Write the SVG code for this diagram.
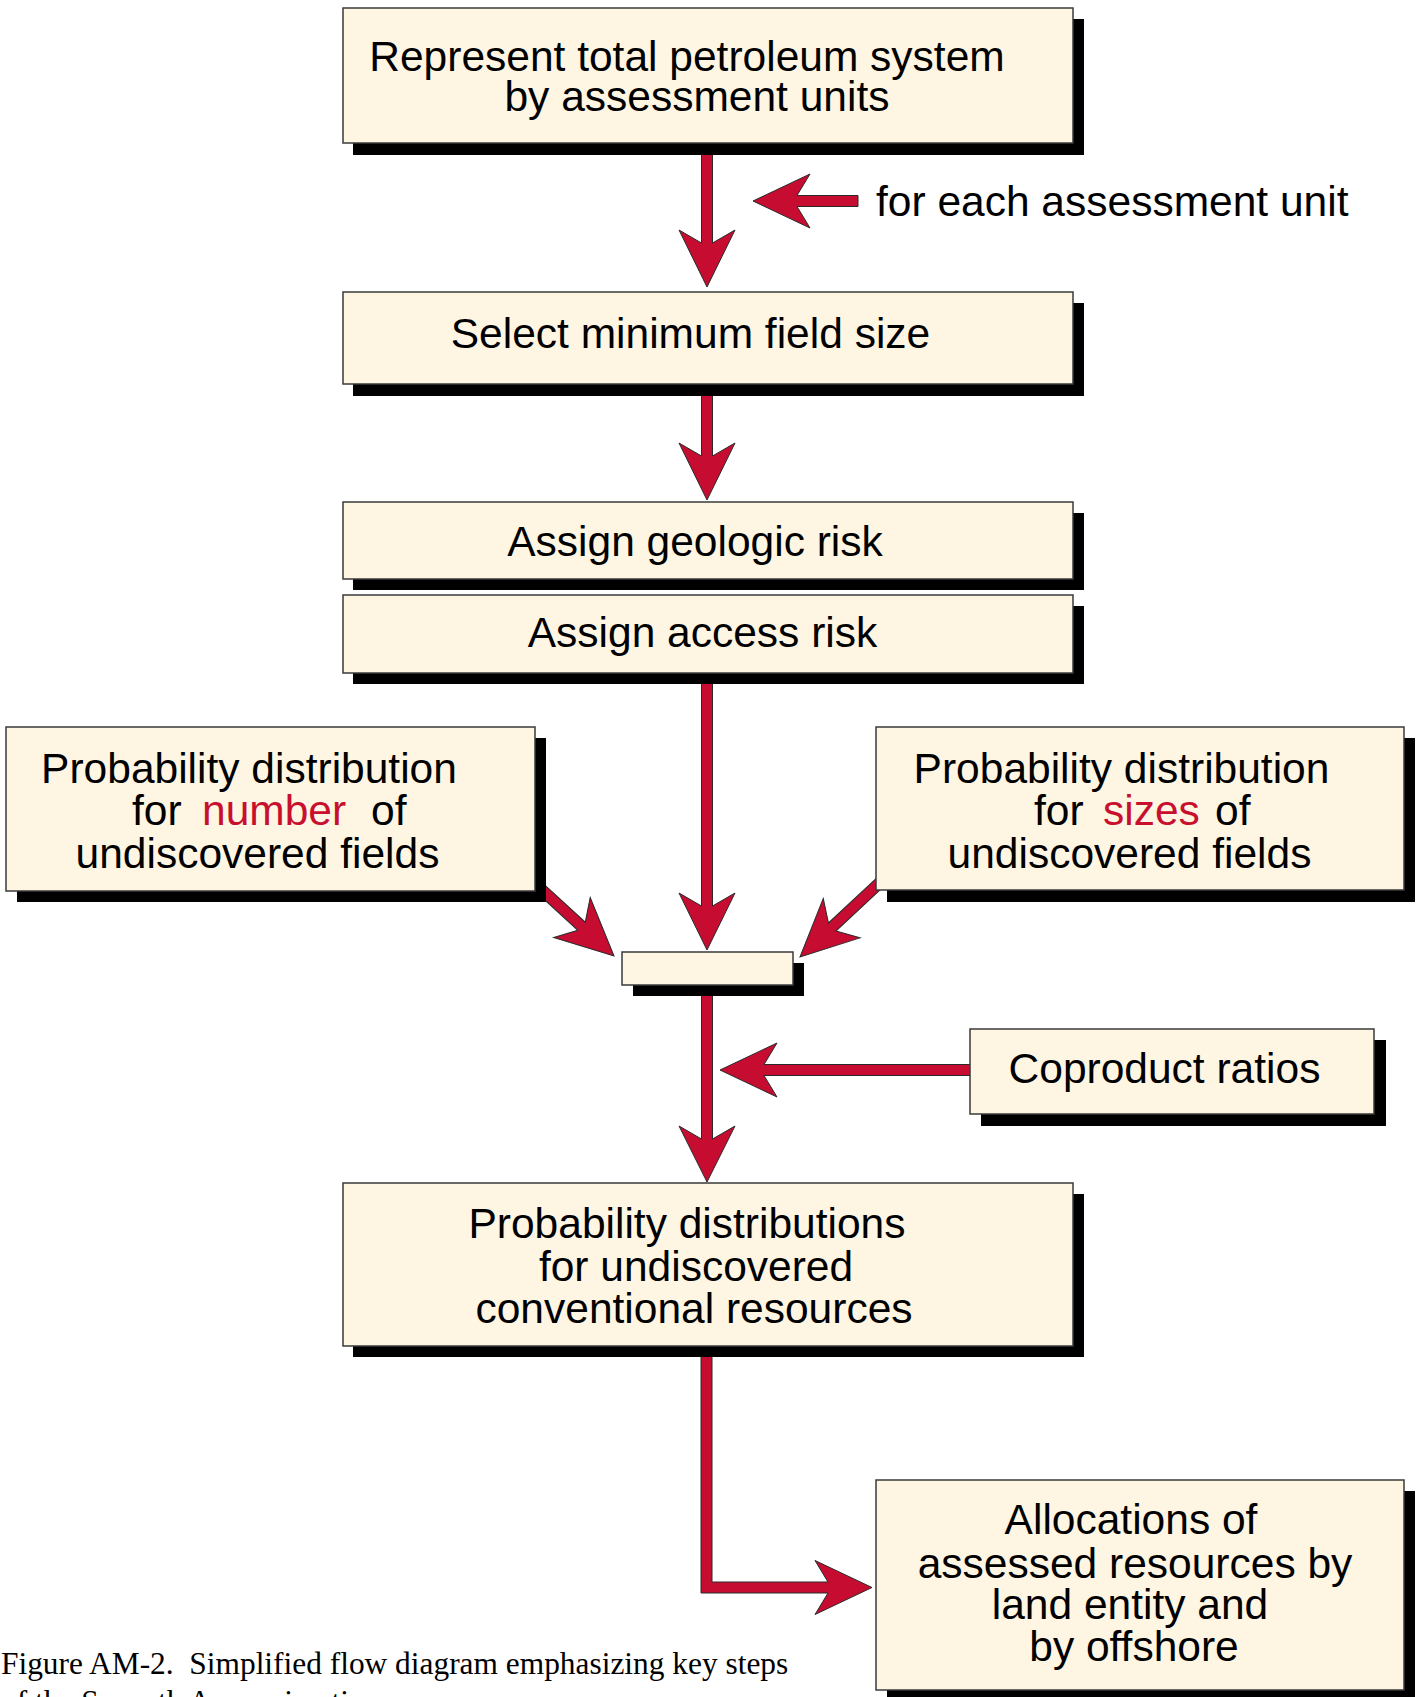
<svg xmlns="http://www.w3.org/2000/svg" width="1422" height="1697" viewBox="0 0 1422 1697">
<style>
.box{fill:#fef5e3;stroke:#3a3a3a;stroke-width:1.5}
.sh{fill:#000}
.arr{fill:#c60c30;stroke:#2a2a2a;stroke-width:1;stroke-linejoin:miter}
.t{font-family:"Liberation Sans",Arial,Helvetica,sans-serif;font-size:42.5px;fill:#000}
.m{text-anchor:middle}
.red{fill:#c8102e}
.cap{font-family:"Liberation Serif","Times New Roman",serif;font-size:31.4px;fill:#000}
</style>
<rect width="1422" height="1697" fill="#fff"/>

<g id="connectors">
  <polygon class="arr" points="701.5,150 701.5,243 679,230 707,287 735,230 712.5,243 712.5,150"/>
  <polygon class="arr" points="858,195.5 797,195.5 810,174 753,201 810,228 797,206.5 858,206.5"/>
  <polygon class="arr" points="701.5,390 701.5,456 679,443 707,500 735,443 712.5,456 712.5,390"/>
  <polygon class="arr" points="701.5,680 701.5,906 679,893 707,950 735,893 712.5,906 712.5,680"/>
  <polygon class="arr" transform="translate(614,956) rotate(42.5)" points="-120,-5.5 -44,-5.5 -57,-27 0,0 -57,27 -44,5.5 -120,5.5"/>
  <polygon class="arr" transform="translate(800,957) rotate(137)" points="-120,-5.5 -44,-5.5 -57,-27 0,0 -57,27 -44,5.5 -120,5.5"/>
  <polygon class="arr" points="701.5,990 701.5,1139 679,1126 707,1182 735,1126 712.5,1139 712.5,990"/>
  <polygon class="arr" points="975,1064.5 764,1064.5 777,1043 720,1070 777,1097 764,1075.5 975,1075.5"/>
  <polygon class="arr" points="701,1352 701,1593 828,1593 815,1614.5 872,1587.5 815,1560.5 828,1582 712,1582 712,1352"/>
</g>

<g id="n1">
  <rect class="sh" x="353" y="19" width="731" height="136"/>
  <rect class="box" x="343" y="8" width="730" height="135"/>
  <text class="t m" x="687" y="71">Represent total petroleum system</text>
  <text class="t m" x="697" y="111">by assessment units</text>
</g>

<g id="label-each">
  <text class="t" x="876" y="216">for each assessment unit</text>
</g>

<g id="n2">
  <rect class="sh" x="353" y="303" width="731" height="93"/>
  <rect class="box" x="343" y="292" width="730" height="92"/>
  <text class="t m" x="690.5" y="348">Select minimum field size</text>
</g>

<g id="n3">
  <rect class="sh" x="353" y="513" width="731" height="77"/>
  <rect class="box" x="343" y="502" width="730" height="77"/>
  <text class="t m" x="695" y="556">Assign geologic risk</text>
</g>

<g id="n4">
  <rect class="sh" x="353" y="606" width="731" height="78"/>
  <rect class="box" x="343" y="595" width="730" height="78"/>
  <text class="t m" x="702.5" y="647">Assign access risk</text>
</g>

<g id="n5">
  <rect class="sh" x="17" y="738" width="529" height="164"/>
  <rect class="box" x="6" y="727" width="529" height="164"/>
  <text class="t m" x="249" y="783">Probability distribution</text>
  <text class="t" y="825"><tspan x="132">for</tspan><tspan x="202" class="red">number</tspan><tspan x="371">of</tspan></text>
  <text class="t m" x="257.5" y="868">undiscovered fields</text>
</g>

<g id="n6">
  <rect class="sh" x="887" y="738" width="528" height="164"/>
  <rect class="box" x="876" y="727" width="528" height="163"/>
  <text class="t m" x="1121.5" y="783">Probability distribution</text>
  <text class="t" y="825"><tspan x="1034">for</tspan><tspan x="1103" class="red">sizes</tspan><tspan x="1215">of</tspan></text>
  <text class="t m" x="1129.5" y="868">undiscovered fields</text>
</g>

<g id="n7">
  <rect class="sh" x="633" y="963" width="171" height="33"/>
  <rect class="box" x="622" y="952" width="171" height="33"/>
</g>

<g id="n8">
  <rect class="sh" x="981" y="1040" width="405" height="86"/>
  <rect class="box" x="970" y="1029" width="404" height="85"/>
  <text class="t m" x="1164.5" y="1083">Coproduct ratios</text>
</g>

<g id="n9">
  <rect class="sh" x="353" y="1194" width="731" height="163"/>
  <rect class="box" x="343" y="1183" width="730" height="163"/>
  <text class="t m" x="687" y="1238">Probability distributions</text>
  <text class="t m" x="696" y="1281">for undiscovered</text>
  <text class="t m" x="694" y="1323">conventional resources</text>
</g>

<g id="n10">
  <rect class="sh" x="887" y="1491" width="528" height="215"/>
  <rect class="box" x="876" y="1480" width="528" height="210"/>
  <text class="t m" x="1131" y="1534">Allocations of</text>
  <text class="t m" x="1135" y="1578">assessed resources by</text>
  <text class="t m" x="1130" y="1619">land entity and</text>
  <text class="t m" x="1134" y="1661">by offshore</text>
</g>

<g id="caption">
  <text class="cap" x="1" y="1674" xml:space="preserve">Figure AM-2.  Simplified flow diagram emphasizing key steps</text>
  <text class="cap" x="1" y="1712">of the Seventh Approximation</text>
</g>
</svg>
